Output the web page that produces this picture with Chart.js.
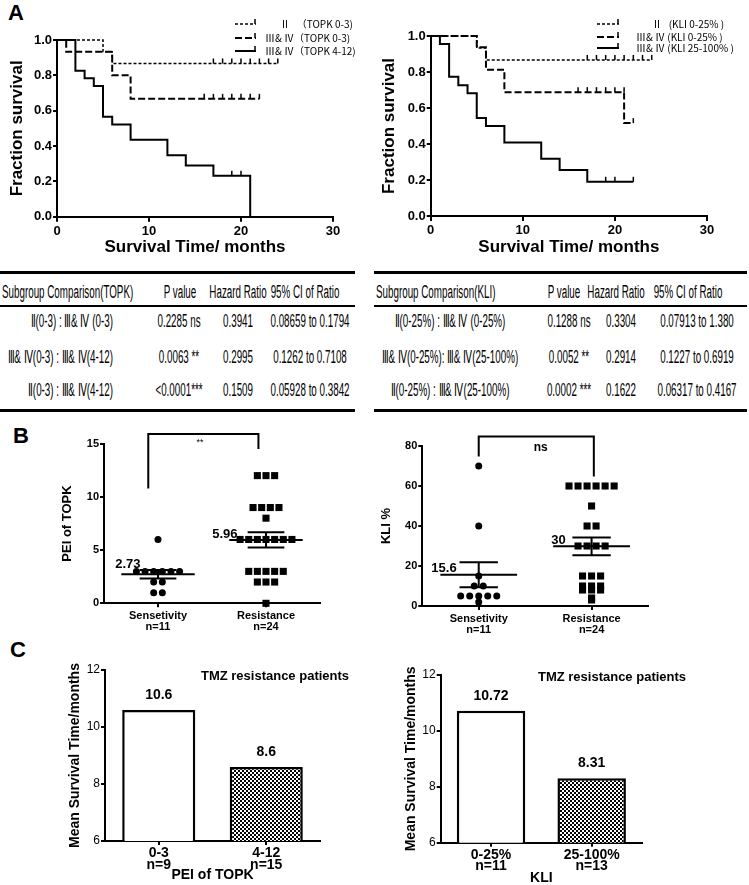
<!DOCTYPE html>
<html>
<head>
<meta charset="utf-8">
<script src="https://cdn.jsdelivr.net/npm/chart.js@4.4.0/dist/chart.umd.min.js"></script>
<style>
html,body{margin:0;padding:0;background:#fff;}
body{width:749px;height:885px;position:relative;overflow:hidden;font-family:"Liberation Sans",Arial,sans-serif;}
canvas{position:absolute;}
.letter{position:absolute;font:bold 22px "Liberation Sans",Arial,sans-serif;line-height:22px;}
.rule{position:absolute;background:#000;}
.cell{position:absolute;font:18px "Liberation Sans",Arial,sans-serif;line-height:20px;white-space:nowrap;color:#000;}
</style>
</head>
<body>
<div class="letter" style="left:8px;top:2px">A</div>
<div class="letter" style="left:13px;top:425px">B</div>
<div class="letter" style="left:10px;top:639px">C</div>

<canvas id="kmTopk" width="374" height="265" style="left:0;top:0"></canvas>
<canvas id="kmKli" width="375" height="265" style="left:374px;top:0"></canvas>
<canvas id="peiDot" width="374" height="225" style="left:0;top:415px"></canvas>
<canvas id="kliDot" width="375" height="225" style="left:374px;top:415px"></canvas>
<canvas id="survTopk" width="374" height="245" style="left:0;top:640px"></canvas>
<canvas id="survKli" width="375" height="245" style="left:374px;top:640px"></canvas>

<script>
// ---- panel A : survival curves (months / fraction surviving) ----
var kmTicks = [0, 10, 20, 30];

var topkII_t = [0, 5, 6, 24];
var topkII_s = [1, 0.933, 0.867, 0.867];
var topkII_cens = [17, 18, 19, 20, 21, 22, 23, 24];
var topkLow_t = [0, 1, 6, 8, 22];
var topkLow_s = [1, 0.933, 0.8, 0.667, 0.667];
var topkLow_cens = [16, 17, 18, 19, 20, 21, 22];
var topkHigh_t = [0, 2, 3, 4, 5, 6, 8, 12, 14, 17, 21];
var topkHigh_s = [1, 0.826, 0.783, 0.739, 0.565, 0.522, 0.435, 0.348, 0.29, 0.232, 0];
var topkHigh_cens = [19, 20];
var topkLegend = ['Ⅱ   （TOPK 0-3)', 'Ⅲ& Ⅳ（TOPK 0-3)', 'Ⅲ& Ⅳ（TOPK 4-12)'];

var kliII_t = [0, 5, 6, 24];
var kliII_s = [1, 0.933, 0.867, 0.867];
var kliII_cens = [17, 18, 19, 20, 21, 22, 23, 24];
var kliLow_t = [0, 5, 6, 8, 21, 22];
var kliLow_s = [1, 0.938, 0.813, 0.688, 0.516, 0.516];
var kliLow_cens = [16, 17, 18, 19, 20, 21, 22];
var kliHigh_t = [0, 1, 2, 3, 4, 5, 6, 8, 12, 14, 17, 22];
var kliHigh_s = [1, 0.955, 0.773, 0.727, 0.682, 0.545, 0.5, 0.409, 0.318, 0.255, 0.19, 0.19];
var kliHigh_cens = [19, 20, 22];
var kliLegend = ['Ⅱ   (KLI 0-25% )', 'Ⅲ& Ⅳ (KLI 0-25% )', 'Ⅲ& Ⅳ (KLI 25-100% )'];

// ---- tables ----
var topkHead = ['Subgroup Comparison(TOPK)', 'P value', 'Hazard Ratio', '95% CI of Ratio'];
var topkRows = [
  ['Ⅱ(0-3) : Ⅲ& Ⅳ (0-3)', '0.2285 ns', '0.3941', '0.08659 to 0.1794'],
  ['Ⅲ& Ⅳ(0-3) : Ⅲ& Ⅳ(4-12)', '0.0063 **', '0.2995', '0.1262 to 0.7108'],
  ['Ⅱ(0-3) : Ⅲ& Ⅳ(4-12)', '<0.0001***', '0.1509', '0.05928 to 0.3842']
];
var kliHead = ['Subgroup Comparison(KLI)', 'P value', 'Hazard Ratio', '95% CI of Ratio'];
var kliRows = [
  ['Ⅱ(0-25%) : Ⅲ& Ⅳ (0-25%)', '0.1288 ns', '0.3304', '0.07913 to 1.380'],
  ['Ⅲ& Ⅳ(0-25%): Ⅲ& Ⅳ(25-100%)', '0.0052 **', '0.2914', '0.1227 to 0.6919'],
  ['Ⅱ(0-25%) : Ⅲ& Ⅳ(25-100%)', '0.0002 ***', '0.1622', '0.06317 to 0.4167']
];

// ---- panel B : dot plots ----
var dotGroups = ['Sensetivity', 'Resistance'];
var peiSens = [6, 3, 3, 3, 3, 3, 3, 2, 2, 1, 1];
var peiRes = [12, 12, 12, 9, 9, 9, 9, 8, 6, 6, 6, 6, 6, 6, 6, 3, 3, 3, 3, 3, 2, 2, 2, 0];
var peiMeanText = ['2.73', '5.96'];
var kliSens = [70, 40, 15, 10, 10, 5, 5, 5, 5, 5, 2];
var kliRes = [60, 60, 60, 60, 60, 60, 50, 40, 40, 30, 30, 30, 30, 15, 15, 15, 10, 10, 10, 8, 8, 8, 4, 3];
var kliMeanText = ['15.6', '30'];

// ---- panel C : mean survival ----
var survTopkCats = [['0-3', 'n=9'], ['4-12', 'n=15']];
var survTopkVals = [10.6, 8.6];
var survKliCats = [['0-25%', 'n=11'], ['25-100%', 'n=13']];
var survKliVals = [10.72, 8.31];

Chart.defaults.font.family = '"Liberation Sans", Arial, sans-serif';
Chart.defaults.color = '#000';

var FONT = '"Liberation Sans", Arial, sans-serif';

function fixArea(canvas, a) {
  var w = canvas.width, h = canvas.height;
  return {
    padding: {left: 0, top: a.top, right: w - a.right, bottom: 0},
    yFit: function (s) { s.width = a.left; },
    xFit: function (s) { s.height = h - a.bottom; }
  };
}

function survBefore(t, s, time) {
  var y = s[0];
  for (var i = 0; i < t.length; i++) if (t[i] < time) y = s[i];
  return y;
}

var kmLegendPlugin = {
  id: 'kmLegend',
  afterDraw: function (chart, args, o) {
    var ctx = chart.ctx;
    ctx.save();
    ctx.strokeStyle = '#000';
    ctx.fillStyle = '#000';
    ctx.font = '10px "Noto Sans CJK SC", ' + FONT;
    ctx.textBaseline = 'middle';
    o.items.forEach(function (it, i) {
      var y = o.rows[i];
      ctx.lineWidth = it.w;
      ctx.setLineDash(it.dash);
      ctx.beginPath();
      ctx.moveTo(o.x0, y);
      ctx.lineTo(o.x1, y);
      ctx.stroke();
      ctx.setLineDash([]);
      ctx.lineWidth = 1.5;
      ctx.beginPath();
      ctx.moveTo(o.x1 - 1, y);
      ctx.lineTo(o.x1 - 1, y - 5);
      ctx.stroke();
      ctx.fillText(it.text, o.tx[i], y);
    });
    ctx.restore();
  }
};

function kmChart(id, groups, legend, area, yTitlePad, lg) {
  var canvas = document.getElementById(id);
  var fx = fixArea(canvas, area);
  var sets = [];
  groups.forEach(function (g) {
    sets.push({
      data: g.t.map(function (t, i) { return {x: t, y: g.s[i]}; }),
      stepped: true, borderColor: '#000', borderWidth: g.w, borderDash: g.dash,
      pointRadius: 0, fill: false, clip: false
    });
    sets.push({
      data: g.c.map(function (c) { return {x: c, y: survBefore(g.t, g.s, c)}; }),
      showLine: false, pointStyle: 'dash', pointRotation: -90, pointRadius: 5,
      pointBorderColor: '#000', pointBorderWidth: 1.5, clip: false
    });
  });
  lg.items = groups.map(function (g, i) { return {text: legend[i], dash: g.dash, w: g.w}; });
  new Chart(canvas, {
    type: 'line',
    data: {datasets: sets},
    options: {
      responsive: false, animation: false, events: [],
      layout: {padding: fx.padding},
      plugins: {legend: {display: false}, tooltip: {enabled: false}, kmLegend: lg},
      scales: {
        x: {
          type: 'linear', min: 0, max: 30, afterFit: fx.xFit,
          afterBuildTicks: function (s) { s.ticks = kmTicks.map(function (v) { return {value: v}; }); },
          grid: {drawOnChartArea: false, tickLength: 5, color: '#000', lineWidth: 2},
          border: {color: '#000', width: 2},
          ticks: {font: {size: 13, weight: 'bold'}, padding: 2},
          title: {display: true, text: 'Survival Time/ months', font: {size: 17, weight: 'bold'}, padding: {top: 0, bottom: 7.8}}
        },
        y: {
          min: 0, max: 1, afterFit: fx.yFit,
          grid: {drawOnChartArea: false, tickLength: 4, color: '#000', lineWidth: 2},
          border: {color: '#000', width: 2},
          ticks: {stepSize: 0.2, font: {size: 13, weight: 'bold'}, padding: 1,
            callback: function (v) { return v.toFixed(1); }},
          title: {display: true, text: 'Fraction survival', font: {size: 17, weight: 'bold'}, padding: {top: yTitlePad, bottom: 0}}
        }
      }
    },
    plugins: [kmLegendPlugin]
  });
}

var DOT = [3, 2], DASH = [7, 3];
kmChart('kmTopk', [
  {t: topkII_t, s: topkII_s, c: topkII_cens, dash: DOT, w: 1.5},
  {t: topkLow_t, s: topkLow_s, c: topkLow_cens, dash: DASH, w: 2},
  {t: topkHigh_t, s: topkHigh_s, c: topkHigh_cens, dash: [], w: 2}
], topkLegend, {left: 57, right: 333, top: 40, bottom: 216.7}, 6.8,
  {x0: 235, x1: 256, rows: [24, 38, 51], tx: [280, 265, 265]});

kmChart('kmKli', [
  {t: kliII_t, s: kliII_s, c: kliII_cens, dash: DOT, w: 1.5},
  {t: kliLow_t, s: kliLow_s, c: kliLow_cens, dash: DASH, w: 2},
  {t: kliHigh_t, s: kliHigh_s, c: kliHigh_cens, dash: [], w: 2}
], kliLegend, {left: 56.7, right: 333, top: 36, bottom: 216}, 4.8,
  {x0: 223, x1: 245, rows: [24, 37, 48], tx: [278, 262, 262]});

// ---- tables ----
function cell(text, x, align, cy) {
  var d = document.createElement('div');
  d.className = 'cell';
  d.textContent = text;
  d.style.left = x + 'px';
  d.style.top = (cy - 10) + 'px';
  var s = 'scaleX(0.545)';
  if (align === 'center') { d.style.transformOrigin = 'center'; d.style.transform = 'translateX(-50%) ' + s; }
  else if (align === 'right') { d.style.transformOrigin = 'right center'; d.style.transform = 'translateX(-100%) ' + s; }
  else { d.style.transformOrigin = 'left center'; d.style.transform = s; }
  document.body.appendChild(d);
}
function rule(x0, x1, y, h) {
  var d = document.createElement('div');
  d.className = 'rule';
  d.style.left = x0 + 'px'; d.style.width = (x1 - x0) + 'px';
  d.style.top = y + 'px'; d.style.height = h + 'px';
  document.body.appendChild(d);
}
function table(head, rows, x0, x1, headPos, rowPos) {
  rule(x0, x1, 270.7, 3);
  rule(x0, x1, 305.3, 1.5);
  rule(x0, x1, 408.5, 3);
  head.forEach(function (t, i) { cell(t, headPos[i][0], headPos[i][1], 292); });
  var ys = [321, 357, 390];
  rows.forEach(function (r, j) {
    r.forEach(function (t, i) { cell(t, rowPos[i][0], rowPos[i][1], ys[j]); });
  });
}
table(topkHead, topkRows, 0, 355,
  [[2, 'left'], [180, 'center'], [238, 'center'], [305, 'center']],
  [[113, 'right'], [179, 'center'], [238, 'center'], [310, 'center']]);
table(kliHead, kliRows, 374, 747,
  [[376, 'left'], [564, 'center'], [616, 'center'], [688, 'center']],
  [[450, 'center'], [569, 'center'], [621, 'center'], [697, 'center']]);

// ---- panel B ----
function spread(values, center, step) {
  var counts = {}, seen = {};
  values.forEach(function (v) { counts[v] = (counts[v] || 0) + 1; });
  return values.map(function (v) {
    seen[v] = (seen[v] || 0) + 1;
    return {x: center + (seen[v] - 1 - (counts[v] - 1) / 2) * step, y: v};
  });
}

var meanSemPlugin = {
  id: 'meanSem',
  afterDatasetsDraw: function (chart, args, o) {
    var ctx = chart.ctx, xs = chart.scales.x, ys = chart.scales.y;
    ctx.save();
    ctx.strokeStyle = '#000'; ctx.fillStyle = '#000'; ctx.lineWidth = 2;
    function seg(x0, y0, x1, y1) {
      ctx.beginPath();
      ctx.moveTo(xs.getPixelForValue(x0), ys.getPixelForValue(y0));
      ctx.lineTo(xs.getPixelForValue(x1), ys.getPixelForValue(y1));
      ctx.stroke();
    }
    o.groups.forEach(function (vals, i) {
      var n = vals.length, c = i + 1;
      var m = vals.reduce(function (a, b) { return a + b; }, 0) / n;
      var sd = Math.sqrt(vals.reduce(function (a, b) { return a + (b - m) * (b - m); }, 0) / (n - 1));
      var se = sd / Math.sqrt(n);
      seg(c - 0.34, m, c + 0.34, m);
      seg(c - 0.17, m + se, c + 0.17, m + se);
      seg(c - 0.17, m - se, c + 0.17, m - se);
      seg(c, m - se, c, m + se);
      ctx.font = 'bold 13px ' + FONT;
      ctx.textAlign = 'left'; ctx.textBaseline = 'alphabetic';
      ctx.fillText(o.text[i], xs.getPixelForValue(c - 0.34) + o.dx[i], ys.getPixelForValue(m) + o.dy[i]);
    });
    var b = o.bracket;
    ctx.beginPath();
    ctx.moveTo(xs.getPixelForValue(b.from), ys.getPixelForValue(b.left));
    ctx.lineTo(xs.getPixelForValue(b.from), ys.getPixelForValue(b.top));
    ctx.lineTo(xs.getPixelForValue(b.to), ys.getPixelForValue(b.top));
    ctx.lineTo(xs.getPixelForValue(b.to), ys.getPixelForValue(b.right));
    ctx.stroke();
    ctx.font = b.font;
    ctx.textAlign = 'center'; ctx.textBaseline = 'middle';
    ctx.fillText(b.text, xs.getPixelForValue(b.tx), ys.getPixelForValue(b.ty));
    ctx.restore();
  }
};

function dotChart(id, groups, meanText, textShift, area, yMax, yStep, yTitle, yTitlePad, bracket) {
  var canvas = document.getElementById(id);
  var fx = fixArea(canvas, area);
  var cats = dotGroups.map(function (g, i) { return [g, 'n=' + groups[i].length]; });
  new Chart(canvas, {
    type: 'scatter',
    data: {datasets: [
      {data: spread(groups[0], 1, 0.08), pointStyle: 'circle', pointRadius: 3.5,
        backgroundColor: '#000', borderColor: '#000', borderWidth: 0, clip: false},
      {data: spread(groups[1], 2, 0.08), pointStyle: 'rect', pointRadius: 5,
        backgroundColor: '#000', borderColor: '#000', borderWidth: 0, clip: false}
    ]},
    options: {
      responsive: false, animation: false, events: [],
      layout: {padding: fx.padding},
      plugins: {legend: {display: false}, tooltip: {enabled: false},
        meanSem: {groups: groups, text: meanText, dx: textShift.dx, dy: textShift.dy, bracket: bracket}},
      scales: {
        x: {
          type: 'linear', min: 0.5, max: 2.5, afterFit: fx.xFit,
          afterBuildTicks: function (s) { s.ticks = [{value: 1}, {value: 2}]; },
          grid: {drawOnChartArea: false, tickLength: 4, color: '#000', lineWidth: 2},
          border: {color: '#000', width: 2},
          ticks: {font: {size: 11, weight: 'bold', lineHeight: 1}, padding: 3,
            callback: function (v, i) { return cats[i]; }}
        },
        y: {
          min: 0, max: yMax, afterFit: fx.yFit,
          grid: {drawOnChartArea: false, tickLength: 4, color: '#000', lineWidth: 2},
          border: {color: '#000', width: 2},
          ticks: {stepSize: yStep, font: {size: 11, weight: 'bold'}, padding: 1},
          title: {display: true, text: yTitle, font: {size: 13, weight: 'bold'}, padding: {top: yTitlePad, bottom: 0}}
        }
      }
    },
    plugins: [meanSemPlugin]
  });
}

dotChart('peiDot', [peiSens, peiRes], peiMeanText, {dx: [-6, -17], dy: [-6, -2]},
  {left: 104, right: 320, top: 28.7, bottom: 188.3}, 15, 5, 'PEI of TOPK', 59.2,
  {from: 0.91, to: 1.93, top: 15.9, left: 10.8, right: 14.5, text: '**', tx: 1.39, ty: 15.1, font: '9px ' + FONT});
dotChart('kliDot', [kliSens, kliRes], kliMeanText, {dx: [-9, -2], dy: [-3, -2]},
  {left: 48.3, right: 274, top: 31, bottom: 191}, 80, 20, 'KLI %', 4.2,
  {from: 1, to: 2.02, top: 84.7, left: 74.7, right: 64.7, text: 'ns', tx: 1.55, ty: 79, font: 'bold 12px ' + FONT});

// ---- panel C ----
function checker() {
  var c = document.createElement('canvas');
  c.width = 4; c.height = 4;
  var g = c.getContext('2d');
  g.fillStyle = '#fff'; g.fillRect(0, 0, 4, 4);
  g.fillStyle = '#000'; g.fillRect(0, 0, 2, 2); g.fillRect(2, 2, 2, 2);
  return g.createPattern(c, 'repeat');
}

var barTextPlugin = {
  id: 'barText',
  afterDatasetsDraw: function (chart, args, o) {
    var ctx = chart.ctx;
    ctx.save();
    ctx.fillStyle = '#000';
    ctx.textAlign = 'center'; ctx.textBaseline = 'middle';
    ctx.font = 'bold 14px ' + FONT;
    var vals = chart.data.datasets[0].data;
    chart.getDatasetMeta(0).data.forEach(function (bar, i) {
      ctx.fillText(String(vals[i]), bar.x, bar.y - 15);
    });
    ctx.font = 'bold 13px ' + FONT;
    ctx.fillText(o.note, o.nx, o.ny);
    ctx.restore();
  }
};

function barChart(id, cats, vals, area, yTitlePad, xTitle, xTitlePad, note) {
  var canvas = document.getElementById(id);
  var fx = fixArea(canvas, area);
  new Chart(canvas, {
    type: 'bar',
    data: {labels: cats, datasets: [{
      data: vals, backgroundColor: ['#fff', checker()], borderColor: '#000', borderWidth: 2.5,
      barPercentage: 0.68, categoryPercentage: 1
    }]},
    options: {
      responsive: false, animation: false, events: [],
      layout: {padding: fx.padding},
      plugins: {legend: {display: false}, tooltip: {enabled: false}, barText: note},
      scales: {
        x: {
          afterFit: fx.xFit,
          grid: {offset: false, drawOnChartArea: false, tickLength: 4, color: '#000', lineWidth: 2},
          border: {color: '#000', width: 2},
          ticks: {font: {size: 14, weight: 'bold', lineHeight: 0.85}, padding: 2},
          title: {display: true, text: xTitle, font: {size: 14, weight: 'bold', lineHeight: 1}, padding: {top: 0, bottom: xTitlePad}}
        },
        y: {
          min: 6, max: 12, afterFit: fx.yFit,
          grid: {drawOnChartArea: false, tickLength: 4, color: '#000', lineWidth: 2},
          border: {color: '#000', width: 2},
          ticks: {stepSize: 2, font: {size: 12}, padding: 1},
          title: {display: true, text: 'Mean Survival Time/months', font: {size: 14, weight: 'bold'}, padding: {top: yTitlePad, bottom: 0}}
        }
      }
    },
    plugins: [barTextPlugin]
  });
}

barChart('survTopk', survTopkCats, survTopkVals, {left: 105, right: 320, top: 30, bottom: 201},
  66.6, 'PEI of TOPK', 3, {note: 'TMZ resistance patients', nx: 275, ny: 36});
barChart('survKli', survKliCats, survKliVals, {left: 66.7, right: 268, top: 35, bottom: 202.7},
  28.3, 'KLI', 0, {note: 'TMZ resistance patients', nx: 238, ny: 37.7});
</script>
</body>
</html>
